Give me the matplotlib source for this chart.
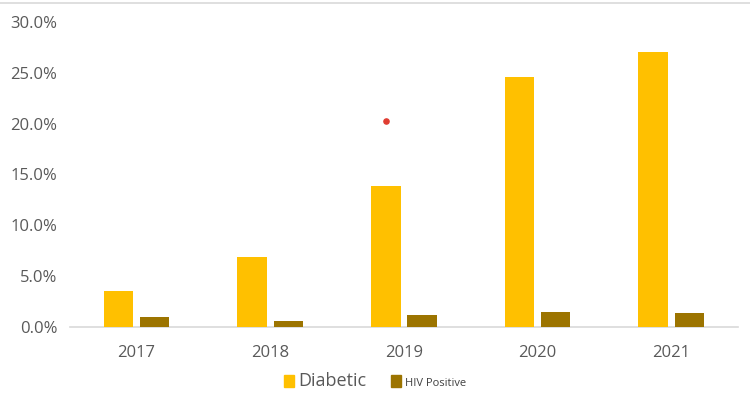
import matplotlib
matplotlib.use("Agg")
import matplotlib.pyplot as plt
import numpy as np
from matplotlib.ticker import FuncFormatter
from matplotlib.patches import Patch

years = ["2017", "2018", "2019", "2020", "2021"]
diabetic = [0.035, 0.069, 0.139, 0.246, 0.270]
hiv_positive = [0.010, 0.006, 0.012, 0.015, 0.014]
marker_x = [2.0]
marker_y = [0.203]

plt.rcParams['font.family'] = ['Open Sans', 'DejaVu Sans']

fig = plt.figure(figsize=(7.5, 4.07), dpi=100)
ax = fig.add_axes([0.093, 0.197, 0.891, 0.749])

x = np.arange(len(years))
w = 0.22
off = 0.135
ax.bar(x - off, diabetic, w, color='#FFC000', zorder=3)
ax.bar(x + off, hiv_positive, w, color='#9C7400', zorder=3)
ax.scatter(np.array(marker_x) - off, marker_y, s=14, color='#E03C31', zorder=4)

ax.set_xlim(-0.5, len(years) - 0.5)
ax.set_ylim(0, 0.30)
ax.set_yticks(np.arange(0, 0.301, 0.05))
ax.yaxis.set_major_formatter(FuncFormatter(lambda v, p: f"{v*100:.1f}%"))
ax.set_xticks(x)
ax.set_xticklabels(years)
ax.tick_params(axis='both', length=0, labelsize=12, colors='#595959')
ax.tick_params(axis='x', pad=13)
ax.tick_params(axis='y', pad=9)
for s in ['top', 'right', 'left']:
    ax.spines[s].set_visible(False)
ax.spines['bottom'].set_color('#D9D9D9')
ax.spines['bottom'].set_linewidth(1.2)

handles = [Patch(color='#FFC000'), Patch(color='#9C7400')]
leg = fig.legend(handles, ['Diabetic', 'HIV Positive'], loc='center',
                 bbox_to_anchor=(0.5, 0.065), ncol=2, frameon=False,
                 handlelength=0.7, handleheight=0.9, handletextpad=0.3,
                 columnspacing=1.8)
texts = leg.get_texts()
texts[0].set_fontsize(13)
texts[0].set_color('#595959')
texts[1].set_fontsize(8)
texts[1].set_color('#404040')

fig.add_artist(plt.Line2D([0, 1], [0.993, 0.993], color='#D9D9D9', lw=1.2))

fig.savefig("out.png", dpi=100)
